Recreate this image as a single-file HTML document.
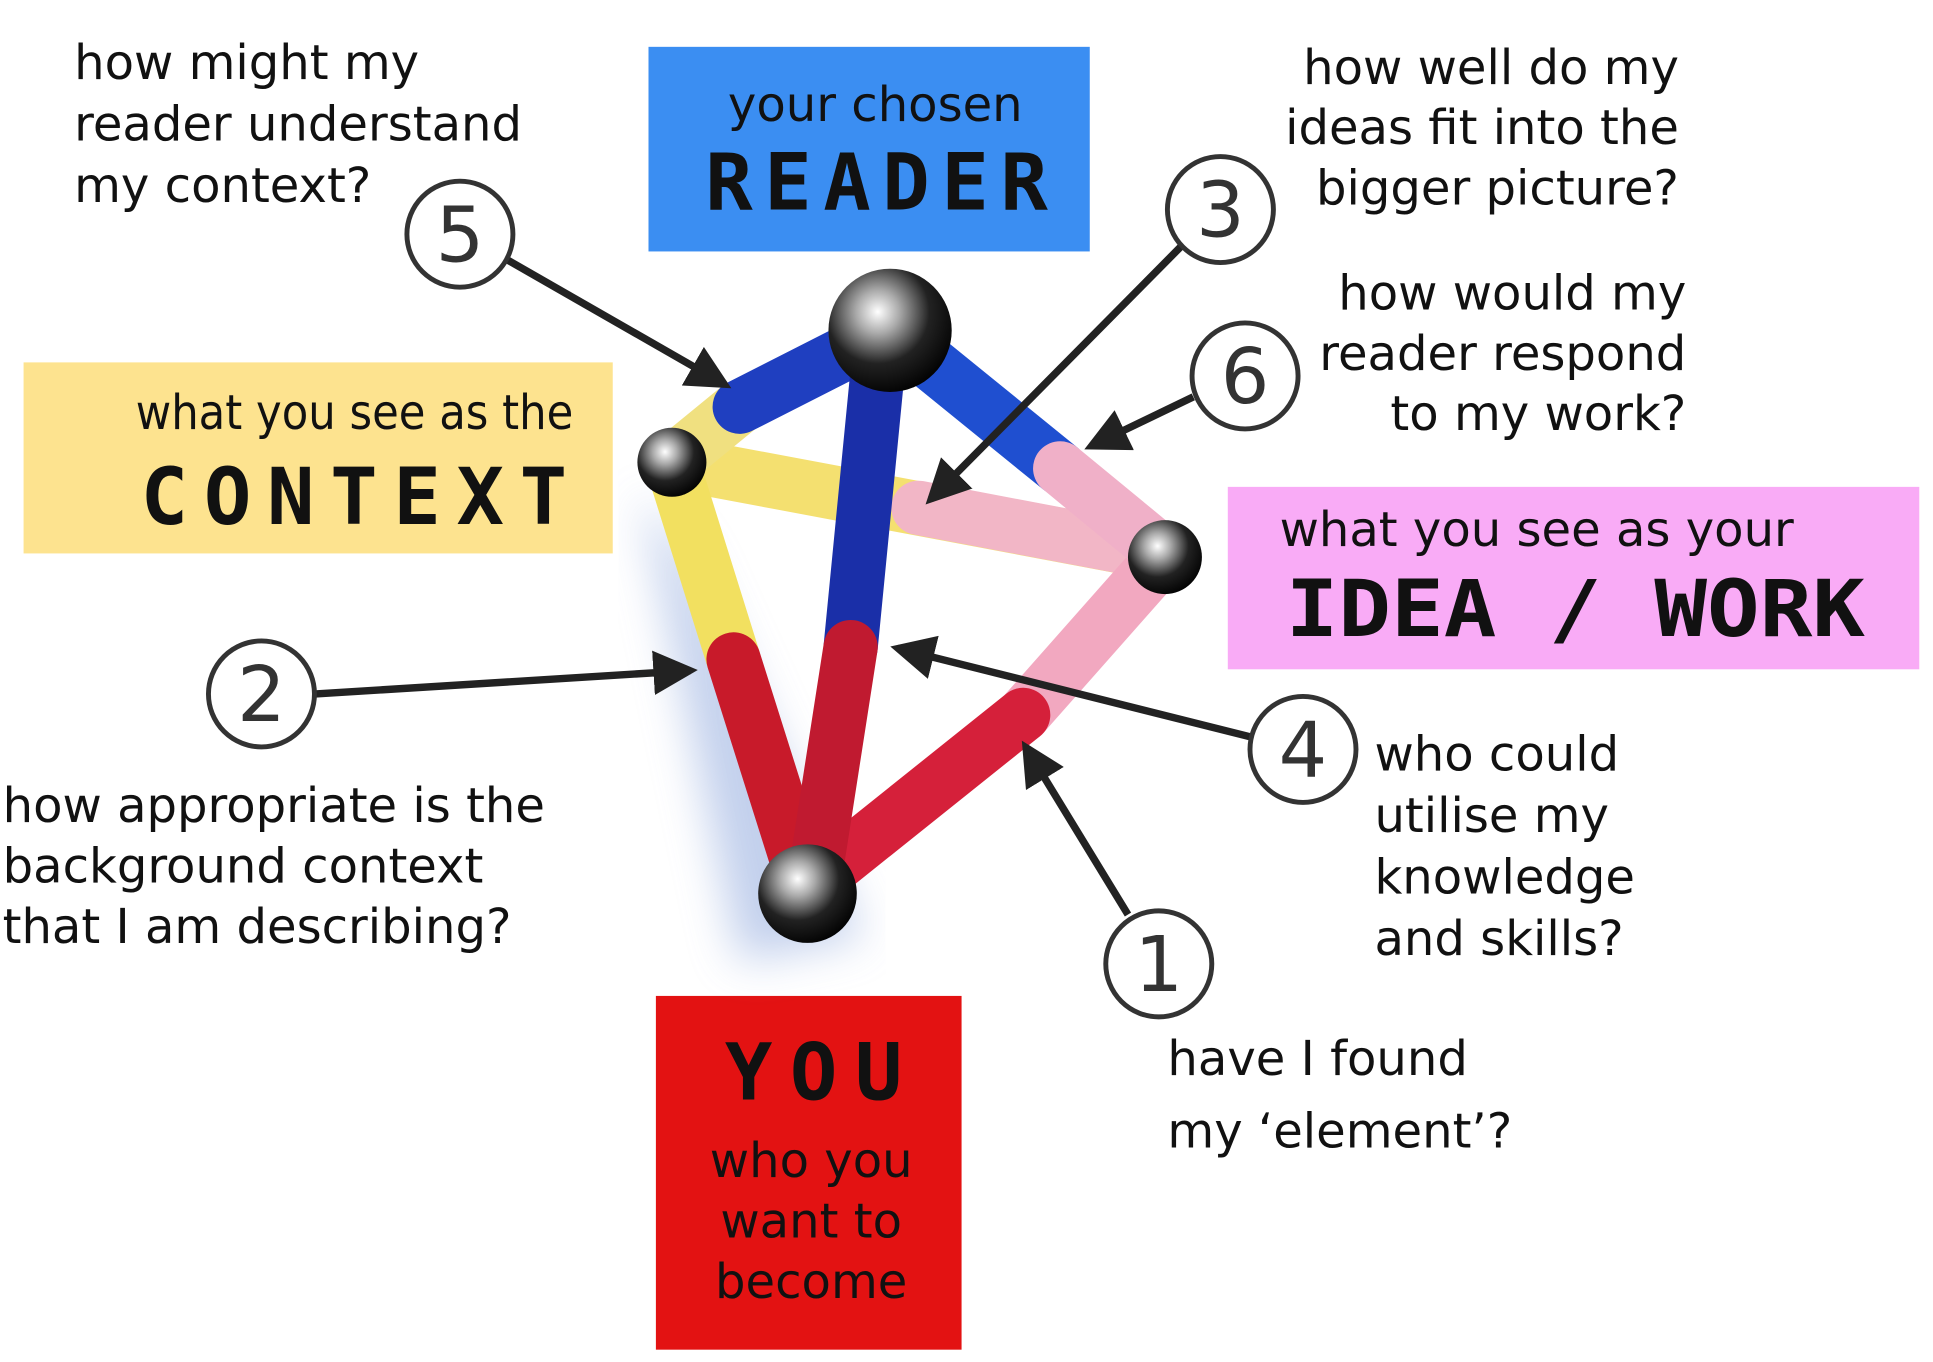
<!DOCTYPE html>
<html><head><meta charset="utf-8"><style>
html,body{margin:0;padding:0;background:#fff;}
svg{display:block;}
text{font-family:"DejaVu Sans","Liberation Sans",sans-serif;fill:#111;}
.t{font-size:39px;}
.big{font-family:"DejaVu Sans Mono","Liberation Mono",monospace;font-weight:bold;font-size:64px;}
.n{font-size:62px;fill:#333;text-anchor:middle;}
</style></head><body>
<svg width="1933" height="1362" viewBox="0 0 1568 1105" xmlns="http://www.w3.org/2000/svg">
<defs>
<radialGradient id="ball" cx="0.4" cy="0.35" r="0.7">
<stop offset="0" stop-color="#fff"/><stop offset="0.25" stop-color="#aaa"/><stop offset="0.6" stop-color="#222"/><stop offset="1" stop-color="#000"/>
</radialGradient>
<filter id="blur"><feGaussianBlur stdDeviation="18"/></filter>
<marker id="ar" markerWidth="6" markerHeight="6" refX="5" refY="3" orient="auto" markerUnits="strokeWidth"><path d="M0,0 L6,3 L0,6 z" fill="#222"/></marker>
</defs>
<rect x="526" y="38" width="358" height="166" fill="#3b8ef2"/>
<text x="710" y="98" class="t" text-anchor="middle">your chosen</text>
<text x="572" y="170" class="big" textLength="278" lengthAdjust="spacing">READER</text>
<rect x="19" y="294" width="478" height="155" fill="#fde38f"/>
<text x="110" y="348" class="t" textLength="355" lengthAdjust="spacingAndGlyphs">what you see as the</text>
<text x="114" y="425" class="big" textLength="346" lengthAdjust="spacing">CONTEXT</text>
<rect x="996" y="395" width="561" height="148" fill="#f9abf6"/>
<text x="1038" y="443" class="t">what you see as your</text>
<text x="1043" y="516" class="big" textLength="470" lengthAdjust="spacingAndGlyphs">IDEA / WORK</text>
<rect x="532" y="808" width="248" height="287" fill="#e31212"/>
<text x="588" y="892" class="big" textLength="144" lengthAdjust="spacing">YOU</text>
<text x="658" y="955" class="t" text-anchor="middle">who you</text>
<text x="658" y="1004" class="t" text-anchor="middle">want to</text>
<text x="658" y="1053" class="t" text-anchor="middle">become</text>
<path d="M520,400 L600,780 L700,760 L560,450 z" fill="#9ab0e0" opacity="0.6" filter="url(#blur)"/>
<g stroke-linecap="round" stroke-width="44">
<line x1="545" y1="375" x2="945" y2="450" stroke="#f4e070"/>
<line x1="745" y1="412" x2="945" y2="450" stroke="#f2b6c6"/>
<line x1="545" y1="375" x2="600" y2="330" stroke="#f0e080"/>
<line x1="600" y1="330" x2="722" y2="268" stroke="#1f3fc0"/>
<line x1="545" y1="375" x2="595" y2="535" stroke="#f2e060"/>
<line x1="595" y1="535" x2="655" y2="725" stroke="#c81a2a"/>
<line x1="945" y1="450" x2="830" y2="580" stroke="#f2a8c0"/>
<line x1="830" y1="580" x2="680" y2="700" stroke="#d5203a"/>
<line x1="722" y1="268" x2="860" y2="380" stroke="#1f4fd0"/>
<line x1="860" y1="380" x2="945" y2="450" stroke="#f0b0c8"/>
<line x1="712" y1="300" x2="690" y2="525" stroke="#1a2fa8"/>
<line x1="690" y1="525" x2="662" y2="705" stroke="#c01a30"/>
</g>
<circle cx="545" cy="375" r="28" fill="url(#ball)"/>
<circle cx="945" cy="452" r="30" fill="url(#ball)"/>
<circle cx="655" cy="725" r="40" fill="url(#ball)"/>
<circle cx="722" cy="268" r="50" fill="url(#ball)"/>
<g stroke="#222" stroke-width="6" marker-end="url(#ar)">
<line x1="410" y1="210" x2="588" y2="312"/>
<line x1="958" y1="200" x2="755" y2="405"/>
<line x1="968" y1="322" x2="885" y2="362"/>
<line x1="256" y1="563" x2="560" y2="544"/>
<line x1="1015" y1="598" x2="728" y2="526"/>
<line x1="915" y1="742" x2="832" y2="606"/>
</g>
<g fill="#fff" stroke="#333" stroke-width="4">
<circle cx="373" cy="190" r="43"/><circle cx="990" cy="170" r="43"/><circle cx="1010" cy="305" r="43"/>
<circle cx="212" cy="563" r="43"/><circle cx="1057" cy="608" r="43"/><circle cx="940" cy="782" r="43"/>
</g>
<text x="373" y="212" class="n">5</text><text x="990" y="192" class="n">3</text><text x="1010" y="327" class="n">6</text>
<text x="212" y="585" class="n">2</text><text x="1057" y="630" class="n">4</text><text x="940" y="804" class="n">1</text>
<text class="t" x="60" y="64">how might my</text>
<text class="t" x="60" y="114">reader understand</text>
<text class="t" x="60" y="164">my context?</text>
<g text-anchor="end">
<text class="t" x="1362" y="68">how well do my</text>
<text class="t" x="1362" y="117">ideas fit into the</text>
<text class="t" x="1362" y="166">bigger picture?</text>
<text class="t" x="1368" y="251">how would my</text>
<text class="t" x="1368" y="300">reader respond</text>
<text class="t" x="1368" y="349">to my work?</text>
</g>
<text class="t" x="2" y="667">how appropriate is the</text>
<text class="t" x="2" y="716">background context</text>
<text class="t" x="2" y="765">that I am describing?</text>
<text class="t" x="1115" y="625">who could</text>
<text class="t" x="1115" y="675">utilise my</text>
<text class="t" x="1115" y="725">knowledge</text>
<text class="t" x="1115" y="775">and skills?</text>
<text class="t" x="947" y="872">have I found</text>
<text class="t" x="947" y="931">my ‘element’?</text>
</svg>
</body></html>
